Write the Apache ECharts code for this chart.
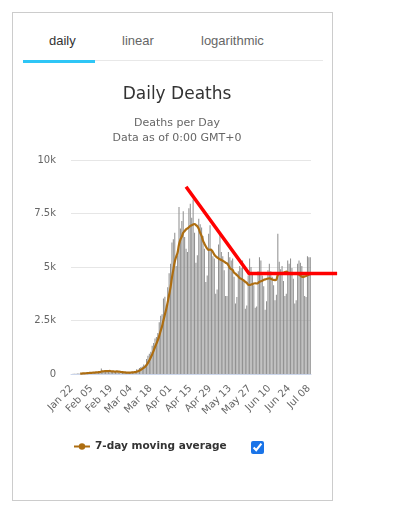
<!DOCTYPE html>
<html>
<head>
<meta charset="utf-8">
<script src="https://cdn.jsdelivr.net/npm/echarts@6/dist/echarts.min.js"></script>
<style>
  body { margin: 0; background: #fff; }
  .card {
    position: absolute; left: 12px; top: 12px;
    width: 319px; height: 487px;
    border: 1px solid #cccccc;
  }
  .tab {
    position: absolute; top: 20px;
    font: 13px/16px "Liberation Sans", Arial, sans-serif;
    color: #666;
  }
  .tab.active { color: #333; }
  .tab-line {
    position: absolute; left: 10px; top: 47px; width: 300px; height: 1px;
    background: #e8e8e8;
  }
  .tab-bar {
    position: absolute; left: 10px; top: 47px; width: 72px; height: 3px;
    background: #2ec6f6;
  }
  #chart { position: absolute; left: 0; top: 0; width: 401px; height: 512px; }
  #showAvg {
    position: absolute; left: 251px; top: 441px;
    width: 13px; height: 13px; margin: 0;
    accent-color: #1a74e8;
  }
</style>
</head>
<body>
<div class="card">
  <div class="tab active" style="left:36px">daily</div>
  <div class="tab" style="left:109px">linear</div>
  <div class="tab" style="left:188px">logarithmic</div>
  <div class="tab-line"></div>
  <div class="tab-bar"></div>
</div>
<div id="chart"></div>
<input type="checkbox" id="showAvg" checked>

<script>
// one bar per day, starting Jan 22
const startDate = '2020-01-22'

const dailyDeaths = [
  // Jan
  0, 8, 16, 15, 24, 26, 26, 38, 43, 46,
  // Feb
  45, 57, 64, 66, 73, 73, 86, 89, 97, 108,
  97, 254, 121, 143, 142, 105, 98, 136, 120, 118,
  109, 97, 150, 71, 64, 37, 58, 67, 72,
  // Mar
  57, 68, 80, 94, 104, 101, 102, 225, 203, 281,
  324, 347, 444, 387, 706, 848, 943, 1037, 1321, 1450,
  1659, 1726, 1918, 2415, 2725, 2795, 3524, 3610, 3237, 4058,
  4703,
  // Apr
  5150, 6150, 6300, 6600, 5050, 5550, 7800, 6800, 7150, 7600,
  6400, 5850, 5700, 7750, 7950, 7300, 8150, 6600, 5200, 5550,
  7250, 7000, 6850, 6450, 5850, 4300, 4600, 6550, 6950, 5850,
  // May
  5500, 5400, 3750, 3950, 6050, 6550, 5700, 5500, 4850, 3650,
  3650, 5700, 5450, 5300, 5400, 4550, 3300, 3600, 4800, 5050,
  4950, 5300, 4400, 3050, 3200, 4600, 5400, 5000, 4700, 4150,
  3100,
  // Jun
  3150, 4800, 5450, 5300, 4600, 4100, 3000, 3400, 4850, 5150,
  4800, 4550, 4150, 3450, 3700, 6550, 5250, 4900, 5050, 4350,
  3650, 3750, 5300, 5150, 5400, 4950, 4450, 3300, 3450, 5150,
  // Jul
  5300, 5200, 5050, 4650, 3650, 3600, 5500, 5450, 5450
]

const movingAverage = [
  // Jan
  null, null, null, null, null, null, 16, 22, 27, 31,
  // Feb
  35, 40, 46, 51, 56, 61, 66, 73, 78, 85,
  89, 115, 122, 130, 137, 139, 137, 143, 124, 123,
  118, 112, 118, 114, 104, 92, 84, 78, 74,
  // Mar
  61, 60, 63, 71, 77, 82, 87, 111, 130, 165,
  200, 240, 290, 340, 420, 520, 640, 770, 920, 1080,
  1260, 1420, 1580, 1780, 2010, 2230, 2510, 2780, 3040, 3360,
  3700,
  // Apr
  4050, 4500, 4880, 5250, 5480, 5680, 6050, 6280, 6420, 6600,
  6680, 6760, 6800, 6860, 6920, 6950, 6990, 7010, 6960, 6900,
  6780, 6600, 6450, 6230, 6090, 5960, 5860, 5800, 5810, 5790,
  // May
  5700, 5580, 5500, 5450, 5400, 5360, 5330, 5290, 5250, 5200,
  5170, 5080, 4960, 4900, 4860, 4740, 4690, 4620, 4560, 4480,
  4450, 4410, 4360, 4300, 4260, 4180, 4160, 4180, 4200, 4230,
  4240,
  // Jun
  4230, 4250, 4310, 4330, 4360, 4400, 4420, 4440, 4460, 4470,
  4450, 4420, 4400, 4390, 4420, 4630, 4680, 4700, 4720, 4730,
  4760, 4780, 4740, 4700, 4680, 4670, 4680, 4700, 4700, 4680,
  // Jul
  4650, 4600, 4550, 4540, 4560, 4580, 4610, 4640, 4670
]

const yTicks = [0, 2500, 5000, 7500, 10000]
const yTickLabels = ['0', '2.5k', '5k', '7.5k', '10k']

// hand drawn red trend overlay: [day index, deaths]
const trendPoints = [[81, 8750], [125.6, 4700], [188, 4700]]

const monthNames = ['Jan', 'Feb', 'Mar', 'Apr', 'May', 'Jun', 'Jul', 'Aug', 'Sep', 'Oct', 'Nov', 'Dec']
const days = dailyDeaths.map((_, i) => {
  const d = new Date(startDate + 'T00:00:00Z')
  d.setUTCDate(d.getUTCDate() + i)
  return monthNames[d.getUTCMonth()] + ' ' + String(d.getUTCDate()).padStart(2, '0')
})

const font = '"DejaVu Sans", Verdana, sans-serif'
const chart = echarts.init(document.getElementById('chart'))

chart.setOption({
  animation: false,
  backgroundColor: 'transparent',
  title: {
    text: 'Daily Deaths',
    subtext: 'Deaths per Day\nData as of 0:00 GMT+0',
    left: 172,
    textAlign: 'center',
    top: 81,
    itemGap: 13,
    textStyle: { fontFamily: font, fontSize: 17, fontWeight: 'normal', color: '#333333' },
    subtextStyle: { fontFamily: font, fontSize: 11, color: '#666666', lineHeight: 15 }
  },
  grid: { left: 71, right: 90, top: 160, bottom: 138 },
  legend: {
    data: ['7-day moving average'],
    left: 73,
    top: 441,
    padding: 0,
    itemWidth: 16,
    itemHeight: 8,
    textStyle: { fontFamily: font, fontSize: 10.5, fontWeight: 'bold', color: '#333333' }
  },
  xAxis: [
    {
      type: 'category',
      data: days,
      boundaryGap: true,
      axisLine: { lineStyle: { color: '#ccd6eb' } },
      axisTick: { show: false },
      axisLabel: {
        interval: 13,
        rotate: 45,
        margin: 13,
        color: '#666666',
        fontFamily: font,
        fontSize: 10
      }
    },
    {
      // same day scale as the bars, used for the overlay line
      type: 'value',
      min: -0.5,
      max: dailyDeaths.length - 0.5,
      show: false
    }
  ],
  yAxis: {
    type: 'value',
    min: yTicks[0],
    max: yTicks[yTicks.length - 1],
    interval: 2500,
    axisLine: { show: false },
    axisTick: { show: false },
    axisLabel: {
      margin: 15,
      color: '#666666',
      fontFamily: font,
      fontSize: 10,
      formatter: v => yTickLabels[yTicks.indexOf(v)]
    },
    splitLine: { lineStyle: { color: '#e6e6e6' } }
  },
  series: [
    {
      name: 'Daily Deaths',
      type: 'bar',
      data: dailyDeaths,
      barCategoryGap: '25%',
      itemStyle: { color: '#929292' },
      silent: true
    },
    {
      name: '7-day moving average',
      type: 'line',
      data: movingAverage,
      smooth: true,
      symbol: 'circle',
      symbolSize: 8,
      showSymbol: false,
      lineStyle: { color: '#ad6d10', width: 2.2 },
      itemStyle: { color: '#ad6d10' },
      silent: true
    }
  ]
})

// the red overlay runs past the plot edge, so draw it as a graphic
// placed through the chart's own axes
const trendPixels = trendPoints.map(p => chart.convertToPixel({ xAxisIndex: 1, yAxisIndex: 0 }, p))
chart.setOption({
  graphic: [{
    type: 'polyline',
    shape: { points: trendPixels },
    style: { stroke: '#ff0000', lineWidth: 3.5, fill: null, lineJoin: 'miter' },
    z: 10,
    silent: true
  }]
})
</script>
</body>
</html>
